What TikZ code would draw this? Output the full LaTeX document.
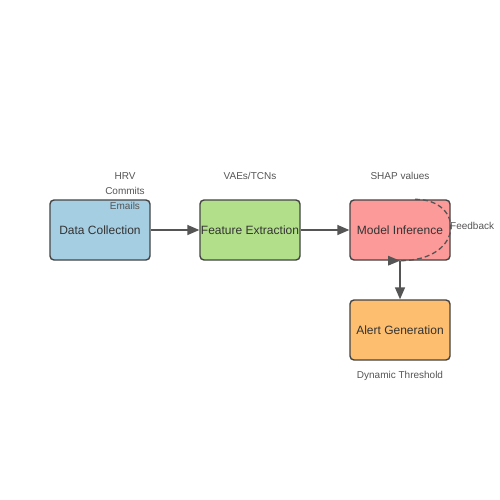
\documentclass[tikz,border=0pt]{standalone}
\usepackage{fontspec}
\setmainfont{Liberation Sans}
\usetikzlibrary{arrows.meta}
\definecolor{cblue}{HTML}{A6CEE3}
\definecolor{cgreen}{HTML}{B2DF8A}
\definecolor{cred}{HTML}{FB9A99}
\definecolor{corange}{HTML}{FDBF6F}
\definecolor{edge}{HTML}{444444}
\definecolor{lbl}{HTML}{555555}
\tikzset{
  box/.style={draw=edge, line width=1.4pt, rounded corners=4pt, minimum width=100pt, minimum height=60pt, inner sep=0pt, text=black!80, font=\fontsize{12}{14}\selectfont},
  conn/.style={draw=lbl, line width=1.5pt, -{Triangle[length=12pt,width=10pt]}},
  lab/.style={text=lbl, font=\fontsize{10}{12}\selectfont, inner sep=0pt},
}
\begin{document}
\begin{tikzpicture}[x=1pt,y=-1pt]
\useasboundingbox[fill=white] (0,0) rectangle (500,500);
\node[box, fill=cblue] (dc) at (100,230) {Data Collection};
\node[box, fill=cgreen] (fe) at (250,230) {Feature Extraction};
\node[box, fill=cred] (mi) at (400,230) {Model Inference};
\node[box, fill=corange] (ag) at (400,330) {Alert Generation};
\draw[conn] (dc) -- (fe);
\draw[conn] (fe) -- (mi);
\draw[conn] (mi) -- (ag);
\coordinate (fbs) at ([xshift=15pt]mi.north);
\coordinate (fbe) at (mi.south);
\draw[lbl, line width=1.3pt, dash pattern=on 5pt off 3pt] (fbs) .. controls ([xshift=50pt]fbs) and ([xshift=65pt]fbe) .. (fbe);
\draw[lbl, line width=0pt, -{Triangle[length=12pt,width=10pt]}] ([xshift=-12pt]fbe) -- (fbe);
\node[lab] (hrv) at (125,176) {HRV};
\node[lab] (com) at (125,191) {Commits};
\node[lab] (em) at (125,206) {Emails};
\node[lab] (vae) at (250,176) {VAEs/TCNs};
\node[lab] (shap) at (400,176) {SHAP values};
\node[lab, anchor=west] (fb) at (450,226) {Feedback};
\node[lab] (dt) at (400,376) {Dynamic Threshold};
\end{tikzpicture}
\end{document}
